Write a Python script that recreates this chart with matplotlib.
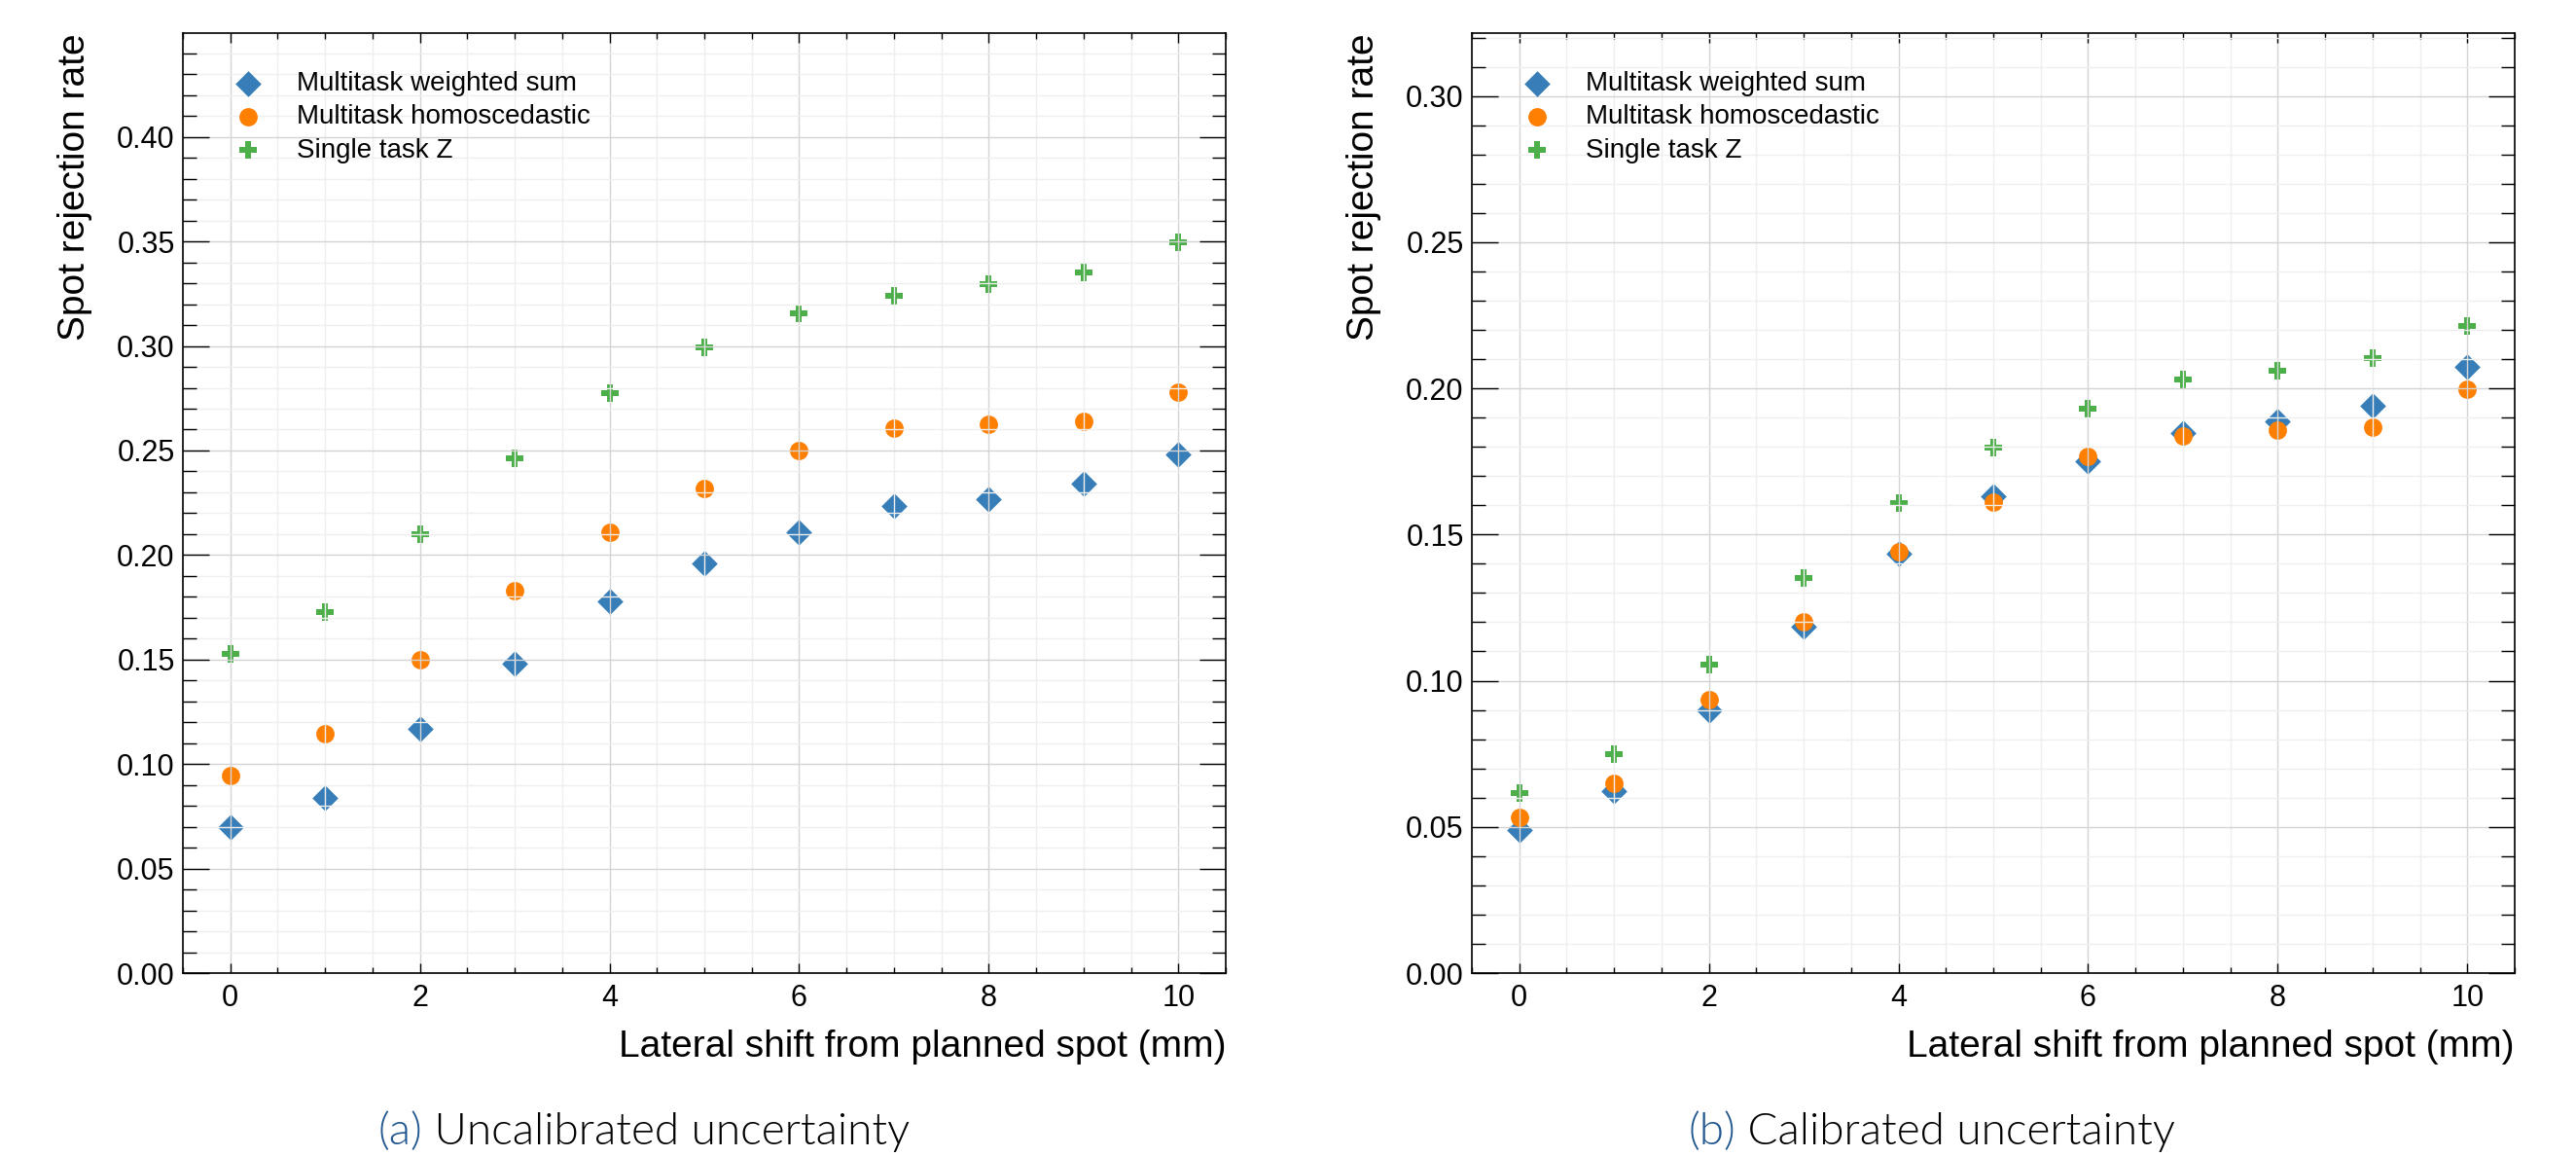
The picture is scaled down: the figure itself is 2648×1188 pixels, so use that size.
import numpy as np
import matplotlib
matplotlib.use("Agg")
import matplotlib.pyplot as plt
from matplotlib.ticker import MultipleLocator, FormatStrFormatter

# lateral shift (mm)
shift_mm = [0, 1, 2, 3, 4, 5, 6, 7, 8, 9, 10]

# (a) uncalibrated
uncal_weighted = [0.070, 0.084, 0.117, 0.148, 0.178, 0.196, 0.211, 0.2235, 0.2265, 0.234, 0.248]
uncal_homosc = [0.0943, 0.1143, 0.150, 0.183, 0.211, 0.232, 0.250, 0.2605, 0.2625, 0.2638, 0.278]
uncal_single = [0.1525, 0.1728, 0.2101, 0.2462, 0.2773, 0.2995, 0.3155, 0.324, 0.3294, 0.335, 0.3495]

# (b) calibrated
cal_weighted = [0.0488, 0.0624, 0.0897, 0.1185, 0.1436, 0.1632, 0.1751, 0.1848, 0.1887, 0.194, 0.2073]
cal_homosc = [0.0531, 0.065, 0.0935, 0.120, 0.144, 0.161, 0.1768, 0.1838, 0.1857, 0.1866, 0.1996]
cal_single = [0.0615, 0.075, 0.1055, 0.1352, 0.1606, 0.1798, 0.1929, 0.2029, 0.206, 0.2103, 0.2213]

labels = ["Multitask weighted sum", "Multitask homoscedastic", "Single task Z"]
captions = [("(a)", "Uncalibrated uncertainty"), ("(b)", "Calibrated uncertainty")]

plt.rcParams["font.family"] = ["Liberation Sans", "DejaVu Sans"]

W, H, DPI = 2648, 1188, 200
fig = plt.figure(figsize=(W / DPI, H / DPI), dpi=DPI)

ax_a = fig.add_axes([188 / W, 1 - 1000 / H, 1072 / W, 966 / H])
ax_b = fig.add_axes([1513 / W, 1 - 1000 / H, 1072 / W, 966 / H])


def panel(ax, w, h, s, ytop):
    ax.scatter(shift_mm, w, marker="D", s=46, color="#377eb8", linewidths=0, label=labels[0])
    ax.scatter(shift_mm, h, marker="o", s=46, color="#ff7f00", linewidths=0, label=labels[1])
    ax.scatter(shift_mm, s, marker="P", s=46, color="#4daf4a", linewidths=0, label=labels[2])

    ax.set_xlim(-0.5, 10.5)
    ax.set_ylim(0, ytop)
    ax.xaxis.set_major_locator(MultipleLocator(2))
    ax.xaxis.set_minor_locator(MultipleLocator(0.5))
    ax.yaxis.set_major_locator(MultipleLocator(0.05))
    ax.yaxis.set_minor_locator(MultipleLocator(0.01))
    ax.yaxis.set_major_formatter(FormatStrFormatter("%.2f"))

    ax.tick_params(which="both", direction="in", top=True, right=True, width=0.5, labelsize=11)
    ax.tick_params(axis="x", which="major", length=3.6, pad=4)
    ax.tick_params(axis="x", which="minor", length=2.1)
    ax.tick_params(axis="y", which="major", length=9.7, pad=3)
    ax.tick_params(axis="y", which="minor", length=5.0)
    for sp in ax.spines.values():
        sp.set_linewidth(0.6)

    ax.grid(which="major", color="#d4d4d4", linewidth=0.5)
    ax.grid(which="minor", color="#efefef", linewidth=0.5)

    ax.set_xlabel("Lateral shift from planned spot (mm)", fontsize=14, loc="right", labelpad=6)
    ax.set_ylabel("Spot rejection rate", fontsize=14, loc="top", labelpad=9)

    ax.legend(loc="upper left", frameon=False, fontsize=10, scatterpoints=1,
              borderaxespad=1.0, labelspacing=0.3)


panel(ax_a, uncal_weighted, uncal_homosc, uncal_single, 0.4497)
panel(ax_b, cal_weighted, cal_homosc, cal_single, 0.3215)

# captions below each panel, tag in blue
fig.canvas.draw()
rend = fig.canvas.get_renderer()
for xc, (tag, rest) in zip([0.25, 0.75], captions):
    t1 = fig.text(0, 0.010, tag, color="#21578f", fontsize=16.5, family="Lato", weight=300, va="baseline")
    t2 = fig.text(0, 0.010, " " + rest, color="black", fontsize=16.5, family="Lato", weight=300, va="baseline")
    w1 = t1.get_window_extent(rend).width / W
    w2 = t2.get_window_extent(rend).width / W
    x0 = xc - (w1 + w2) / 2
    t1.set_x(x0)
    t2.set_x(x0 + w1)

fig.savefig("out.png", dpi=DPI)
